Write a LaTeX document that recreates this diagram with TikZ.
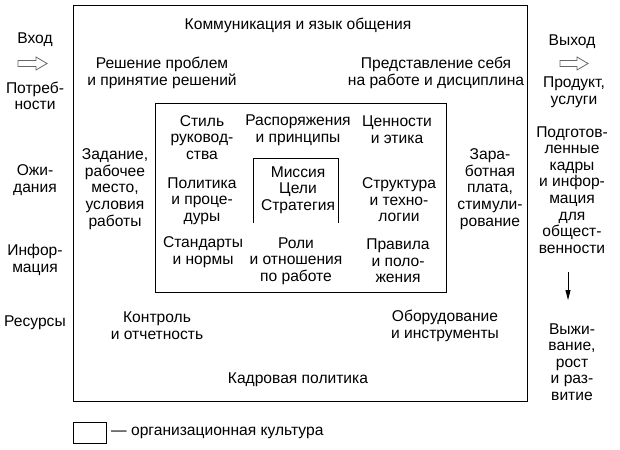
\documentclass[tikz,border=0pt]{standalone}
\usepackage{fontspec}
\setmainfont{Liberation Sans}
\usetikzlibrary{arrows.meta}
\begin{document}
\begin{tikzpicture}[x=1pt,y=-1pt,
  txt/.style={align=center,inner sep=0pt,font=\fontsize{15.6}{16.6}\selectfont},
  boxline/.style={draw=black,line width=0.9pt},
  hollow/.style={draw=black!60,line width=0.8pt,fill=white}]
\useasboundingbox (0,0) rectangle (620,449);
% boxes
\draw[boxline] (73,5) rectangle (527,401);
\draw[boxline] (155,103) rectangle (446,292);
\draw[boxline] (253,223) -- (253,158) -- (338,158) -- (338,223);
\draw[boxline] (73,422) rectangle (106,443);
% outer text
\node[txt] (komm) at (298,25) {Коммуникация и язык общения};
\node[txt] (resh) at (162,73) {Решение проблем\\и принятие решений};
\node[txt] (pred) at (436,73) {Представление себя\\на работе и дисциплина};
\node[txt] (zad) at (115,189) {Задание,\\рабочее\\место,\\условия\\работы};
\node[txt] (zar) at (490,189) {Зара-\\ботная\\плата,\\стимули-\\рование};
\node[txt] (kontr) at (157,326) {Контроль\\и отчетность};
\node[txt] (obor) at (445,326) {Оборудование\\и инструменты};
\node[txt] (kadr) at (298,380) {Кадровая политика};
% middle grid
\node[txt] (stil) at (202,137.5) {Стиль\\руковод-\\ства};
\node[txt] (rasp) at (298,130) {Распоряжения\\и принципы};
\node[txt] (cenn) at (397,130) {Ценности\\и этика};
\node[txt] (polit) at (202,201) {Политика\\и проце-\\дуры};
\node[txt] (miss) at (298,190) {Миссия\\Цели\\Стратегия};
\node[txt] (strukt) at (399,200) {Структура\\и техно-\\логии};
\node[txt] (stand) at (203,252) {Стандарты\\и нормы};
\node[txt] (roli) at (296,261) {Роли\\и отношения\\по работе};
\node[txt] (prav) at (398,261) {Правила\\и поло-\\жения};
% left column
\node[txt] (vhod) at (35,40) {Вход};
\node[txt] (potr) at (35,96) {Потреб-\\ности};
\node[txt] (ozh) at (35,180) {Ожи-\\дания};
\node[txt] (inf) at (35,260) {Инфор-\\мация};
\node[txt] (res) at (35,323) {Ресурсы};
% right column
\node[txt] (vyh) at (572,42) {Выход};
\node[txt] (prod) at (574,92) {Продукт,\\услуги};
\node[txt] (podg) at (572,190) {Подготов-\\ленные\\кадры\\и инфор-\\мация\\для\\общест-\\венности};
\node[txt] (vyzh) at (572,362) {Выжи-\\вание,\\рост\\и раз-\\витие};
% hollow arrows
\draw[hollow] (18,60.5) -- (36,60.5) -- (36,57) -- (47,63.5) -- (36,70) -- (36,66.5) -- (18,66.5) -- cycle;
\draw[hollow] (560,60.5) -- (577,60.5) -- (577,57) -- (588,63.5) -- (577,70) -- (577,66.5) -- (560,66.5) -- cycle;
% down arrow
\coordinate (da) at (568,272);
\coordinate (db) at (568,300);
\draw[line width=0.8pt,-{Triangle[length=10pt,width=5pt]}] (da) -- (db);
% legend
\node[txt,anchor=west] (leg) at (111,433) {— организационная культура};
\end{tikzpicture}
\end{document}
